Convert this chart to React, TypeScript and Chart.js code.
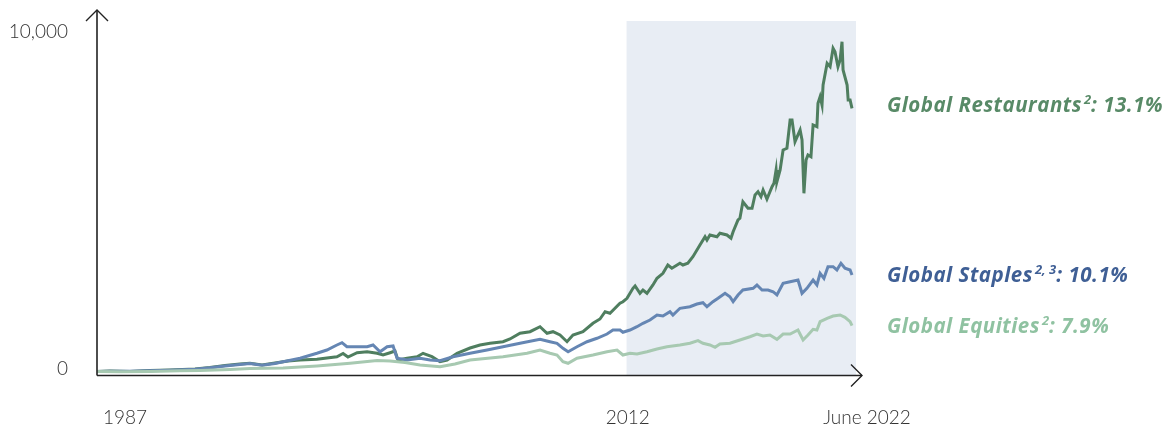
import React, { useEffect, useRef } from "react";
import { Chart, registerables } from "chart.js";

Chart.register(...registerables);

const W = 1169;
const H = 429;

// Global Restaurants index (start = 100)
const restaurantYears = [
  1987.0, 1987.61, 1988.55, 1989.49, 1990.43, 1991.61, 1992.31, 1993.02, 1993.72, 1994.19,
  1994.76, 1995.37, 1995.98, 1996.55, 1997.34, 1998.28, 1998.57, 1998.8, 1999.23, 1999.7,
  2000.17, 2000.45, 2000.78, 2001.01, 2001.15, 2001.58, 2002.05, 2002.33, 2002.75, 2003.13,
  2003.46, 2003.93, 2004.54, 2005.01, 2005.48, 2006.09, 2006.42, 2006.89, 2007.36, 2007.83,
  2008.16, 2008.44, 2008.77, 2009.1, 2009.38, 2009.85, 2010.32, 2010.65, 2010.89, 2011.12,
  2011.59, 2011.73, 2011.92, 2012.2, 2012.3, 2012.53, 2012.67, 2012.86, 2013.14, 2013.33,
  2013.61, 2013.84, 2014.03, 2014.41, 2014.55, 2014.78, 2015.02, 2015.35, 2015.59, 2015.68,
  2015.82, 2016.15, 2016.29, 2016.62, 2016.81, 2016.91, 2017.14, 2017.23, 2017.37, 2017.61,
  2017.8, 2017.94, 2018.08, 2018.22, 2018.32, 2018.5, 2018.74, 2018.83, 2018.93, 2018.97,
  2019.12, 2019.26, 2019.44, 2019.59, 2019.68, 2019.82, 2020.06, 2020.15, 2020.24, 2020.34,
  2020.43, 2020.57, 2020.67, 2020.85, 2020.9, 2021.0, 2021.09, 2021.14, 2021.33, 2021.47,
  2021.61, 2021.7, 2021.84, 2021.94, 2022.03, 2022.08, 2022.27, 2022.32, 2022.41, 2022.5,
];
const restaurantValues = [
  100, 117, 102, 131, 146, 175, 219, 277, 321, 342,
  292, 350, 409, 438, 458, 534, 628, 526, 651, 680,
  634, 584, 651, 701, 438, 488, 534, 634, 534, 388,
  438, 634, 788, 876, 926, 972, 1051, 1218, 1264, 1410,
  1218, 1264, 1168, 972, 1168, 1264, 1510, 1635, 1848, 1802,
  2094, 2140, 2240, 2532, 2599, 2386, 2482, 2386, 2628, 2824,
  2970, 3212, 3116, 3262, 3212, 3262, 3454, 3796, 4038, 3942,
  4088, 4038, 4138, 4088, 3992, 4184, 4526, 4576, 5060, 4868,
  4868, 5256, 5352, 5206, 5402, 5139, 5498, 5598, 5986, 5644,
  5986, 6570, 6620, 7446, 7446, 6812, 7154, 6862, 5306, 6278,
  6424, 6374, 7300, 7250, 7934, 8126, 7884, 8468, 9102, 9002,
  9540, 9440, 9002, 9198, 9732, 8906, 8468, 8030, 8030, 7788,
];

// Global Staples index (start = 100)
const staplesYears = [
  1987.0, 1987.61, 1988.55, 1989.49, 1990.43, 1991.61, 1992.31, 1993.02, 1993.72, 1994.19,
  1994.76, 1995.37, 1995.75, 1996.55, 1997.34, 1997.81, 1998.28, 1998.52, 1998.75, 1999.23,
  1999.7, 1999.98, 2000.31, 2000.64, 2000.92, 2001.11, 2001.58, 2002.19, 2002.66, 2003.13,
  2003.74, 2004.54, 2005.34, 2006.09, 2006.89, 2007.83, 2008.3, 2008.63, 2008.91, 2009.15,
  2009.57, 2010.04, 2010.51, 2010.98, 2011.26, 2011.59, 2011.73, 2012.06, 2012.39, 2012.67,
  2013.0, 2013.33, 2013.61, 2013.94, 2014.08, 2014.41, 2014.88, 2015.21, 2015.49, 2015.68,
  2015.96, 2016.2, 2016.53, 2016.76, 2016.91, 2017.14, 2017.37, 2017.85, 2018.03, 2018.27,
  2018.55, 2018.79, 2018.97, 2019.26, 2019.59, 2019.96, 2020.15, 2020.38, 2020.67, 2020.85,
  2021.0, 2021.18, 2021.37, 2021.61, 2021.79, 2021.98, 2022.17, 2022.41, 2022.5,
];
const staplesValues = [
  100, 111, 108, 126, 140, 169, 210, 263, 307, 336,
  283, 336, 388, 488, 634, 730, 876, 943, 826, 826,
  826, 876, 680, 826, 847, 488, 438, 488, 438, 418,
  534, 634, 730, 826, 926, 1042, 972, 926, 780, 680,
  826, 972, 1072, 1197, 1314, 1314, 1247, 1314, 1410, 1510,
  1606, 1752, 1723, 1848, 1752, 1948, 1994, 2073, 2111, 1994,
  2140, 2240, 2386, 2286, 2140, 2336, 2482, 2532, 2628, 2482,
  2482, 2432, 2336, 2678, 2724, 2774, 2386, 2532, 2774, 2628,
  2970, 2824, 3162, 3162, 3066, 3262, 3116, 3066, 2920,
];

// Global Equities index (start = 100)
const equitiesYears = [
  1987.0, 1988.08, 1989.49, 1990.9, 1991.84, 1993.25, 1994.19, 1995.75, 1997.34, 1998.9,
  2000.17, 2000.78, 2001.48, 2002.19, 2003.13, 2003.83, 2004.54, 2006.09, 2007.22, 2007.83,
  2008.3, 2008.63, 2008.91, 2009.15, 2009.57, 2010.32, 2010.98, 2011.45, 2011.73, 2012.06,
  2012.39, 2012.86, 2013.33, 2013.8, 2014.41, 2014.88, 2015.26, 2015.49, 2015.82, 2016.06,
  2016.29, 2016.76, 2017.23, 2017.7, 2018.03, 2018.32, 2018.64, 2018.97, 2019.26, 2019.59,
  2019.96, 2020.2, 2020.43, 2020.67, 2020.85, 2021.0, 2021.33, 2021.61, 2021.94, 2022.17,
  2022.41, 2022.5,
];
const equitiesValues = [
  100, 95, 105, 123, 131, 161, 190, 204, 263, 342,
  423, 409, 365, 292, 242, 321, 438, 534, 634, 730,
  634, 584, 388, 342, 488, 584, 680, 730, 584, 634,
  613, 680, 759, 826, 876, 926, 1002, 926, 876, 809,
  905, 926, 1022, 1118, 1197, 1139, 1168, 1042, 1197, 1197,
  1314, 1022, 1168, 1334, 1314, 1556, 1656, 1723, 1752, 1685,
  1556, 1440,
];

// Axis ticks and labels
const yTickValues = [0, 10000];
const yTickLabels = ["0", "10,000"];
const xTickYears = [1987, 2012, 2022.5];
const xTickLabels = ["1987", "2012", "June 2022"];
const highlightRange = [2011.9, 2022.5];

// Series end labels
const seriesNames = ["Global Restaurants", "Global Staples", "Global Equities"];
const seriesNotes = ["2", "2, 3", "2"];
const seriesReturns = [": 13.1%", ": 10.1%", ": 7.9%"];

const lineColors = ["#4f7e5f", "#6586b3", "#a7c9b1"];
const labelColors = ["#588a67", "#3f5f95", "#8fc2a1"];

const xMin = 1987;
const xMax = 2022.97;
const yMax = 10658;

function toPoints(xs: number[], ys: number[]) {
  return xs.map((x, i) => ({ x, y: ys[i] }));
}

const decorPlugin = {
  id: "decor",
  beforeDatasetsDraw(chart: any) {
    const { ctx, chartArea, scales } = chart;
    const x0 = scales.x.getPixelForValue(highlightRange[0]);
    const x1 = scales.x.getPixelForValue(highlightRange[1]) + 4;
    ctx.save();
    ctx.fillStyle = "#e8edf4";
    ctx.fillRect(x0, chartArea.top + 11, x1 - x0, chartArea.bottom - chartArea.top - 11);
    ctx.restore();
  },
  afterDatasetsDraw(chart: any) {
    const { ctx, chartArea, scales } = chart;
    const left = chartArea.left;
    const bottom = chartArea.bottom + 0.5;
    const right = chartArea.right;
    const top = chartArea.top;
    ctx.save();
    ctx.strokeStyle = "#222222";
    ctx.lineWidth = 1.6;
    ctx.lineCap = "butt";
    ctx.beginPath();
    ctx.moveTo(left, bottom);
    ctx.lineTo(left, top);
    ctx.moveTo(left, bottom);
    ctx.lineTo(right, bottom);
    ctx.stroke();
    // arrow heads
    ctx.lineWidth = 1.4;
    ctx.beginPath();
    ctx.moveTo(left - 11, top + 11);
    ctx.lineTo(left, top);
    ctx.lineTo(left + 11, top + 11);
    ctx.moveTo(right - 11, bottom - 11);
    ctx.lineTo(right, bottom);
    ctx.lineTo(right - 11, bottom + 11);
    ctx.stroke();

    // y tick labels
    ctx.fillStyle = "#333333";
    ctx.font = "300 19px Lato";
    ctx.textAlign = "right";
    ctx.textBaseline = "alphabetic";
    yTickValues.forEach((v, i) => {
      const py = scales.y.getPixelForValue(v);
      const baseline = v === 0 ? py : py + 5.5;
      ctx.fillText(yTickLabels[i], 68, baseline);
    });

    // x tick labels
    xTickYears.forEach((yr, i) => {
      const px = scales.x.getPixelForValue(yr);
      if (i === 0) {
        ctx.textAlign = "left";
        ctx.fillText(xTickLabels[i], px + 6, 424);
      } else if (i === xTickYears.length - 1) {
        ctx.textAlign = "center";
        ctx.fillText(xTickLabels[i], px + 15, 424);
      } else {
        ctx.textAlign = "center";
        ctx.fillText(xTickLabels[i], px - 1, 424);
      }
    });

    // series end labels
    const ends = [
      restaurantValues[restaurantValues.length - 1],
      staplesValues[staplesValues.length - 1],
      equitiesValues[equitiesValues.length - 1],
    ];
    ctx.textAlign = "left";
    ends.forEach((v, i) => {
      const cy = scales.y.getPixelForValue(v) - (i === 0 ? 3 : 0);
      const base = cy + 7;
      let x = 887;
      ctx.fillStyle = labelColors[i];
      (ctx as any).letterSpacing = "0.5px";
      ctx.font = "italic 700 20.5px 'Open Sans'";
      ctx.fillText(seriesNames[i], x, base);
      x += ctx.measureText(seriesNames[i]).width + 2;
      (ctx as any).letterSpacing = "0px";
      ctx.font = "italic 700 13px 'Open Sans'";
      ctx.fillText(seriesNotes[i], x, base - 8);
      x += ctx.measureText(seriesNotes[i]).width;
      (ctx as any).letterSpacing = "0.5px";
      ctx.font = "italic 700 20.5px 'Open Sans'";
      ctx.fillText(seriesReturns[i], x, base);
      (ctx as any).letterSpacing = "0px";
    });
    ctx.restore();
  },
};

export default function App() {
  const ref = useRef<HTMLCanvasElement | null>(null);
  useEffect(() => {
    if (!ref.current) return;
    const chart = new Chart(ref.current, {
      type: "line",
      data: {
        datasets: [
          {
            label: "Global Equities",
            data: toPoints(equitiesYears, equitiesValues),
            borderColor: lineColors[2],
            borderWidth: 3,
            pointRadius: 0,
            tension: 0,
          },
          {
            label: "Global Staples",
            data: toPoints(staplesYears, staplesValues),
            borderColor: lineColors[1],
            borderWidth: 3,
            pointRadius: 0,
            tension: 0,
          },
          {
            label: "Global Restaurants",
            data: toPoints(restaurantYears, restaurantValues),
            borderColor: lineColors[0],
            borderWidth: 3,
            pointRadius: 0,
            tension: 0,
          },
        ],
      },
      options: {
        responsive: false,
        animation: false,
        parsing: false,
        layout: { padding: { left: 97, right: W - 862, top: 10, bottom: H - 375 } },
        plugins: { legend: { display: false }, tooltip: { enabled: false } },
        scales: {
          x: { type: "linear", min: xMin, max: xMax, display: false },
          y: { type: "linear", min: 0, max: yMax, display: false },
        },
      },
      plugins: [decorPlugin],
    });
    return () => chart.destroy();
  }, []);
  return (
    <div style={{ position: "absolute", left: 0, top: 0, width: W, height: H, background: "#ffffff" }}>
      <canvas ref={ref} width={W} height={H} style={{ display: "block", width: W, height: H }} />
    </div>
  );
}
